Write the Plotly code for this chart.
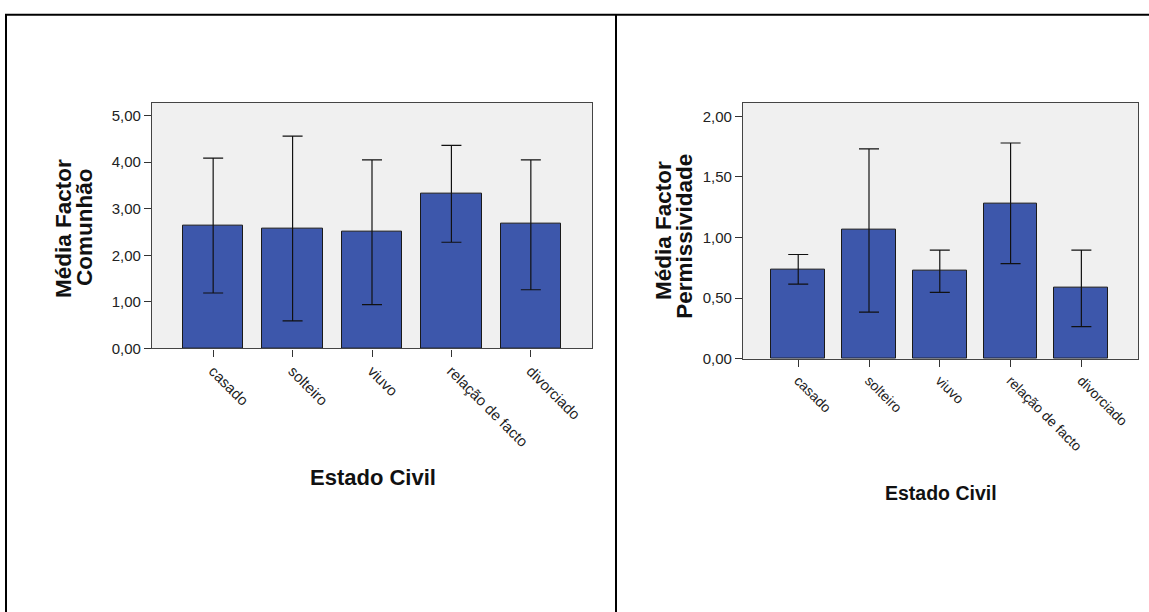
import plotly.graph_objects as go

categories = ["casado", "solteiro", "viuvo", "relação de facto", "divorciado"]

comunhao_mean = [2.63, 2.57, 2.50, 3.33, 2.67]
comunhao_low = [1.19, 0.59, 0.94, 2.28, 1.26]
comunhao_high = [4.09, 4.56, 4.05, 4.36, 4.05]

permis_mean = [0.738, 1.064, 0.727, 1.281, 0.583]
permis_low = [0.616, 0.385, 0.548, 0.784, 0.265]
permis_high = [0.860, 1.731, 0.896, 1.780, 0.896]

left_ticks = [0, 1, 2, 3, 4, 5]
left_ticktext = ["0,00", "1,00", "2,00", "3,00", "4,00", "5,00"]
right_ticks = [0, 0.5, 1.0, 1.5, 2.0]
right_ticktext = ["0,00", "0,50", "1,00", "1,50", "2,00"]

W, H = 1149, 612
BAR = "#3D57AB"
FONT = "Liberation Sans, Arial, sans-serif"

fig = go.Figure()

def add_bars(mean, low, high, xa, ya):
    fig.add_trace(go.Bar(
        x=categories, y=mean, xaxis=xa, yaxis=ya, width=0.76,
        marker=dict(color=BAR, line=dict(color="#1a1a1a", width=1)),
        error_y=dict(type="data", symmetric=False,
                     array=[h - m for h, m in zip(high, mean)],
                     arrayminus=[m - l for m, l in zip(mean, low)],
                     color="#111111", thickness=1.2, width=10),
        showlegend=False, hoverinfo="skip"))

add_bars(comunhao_mean, comunhao_low, comunhao_high, "x", "y")
add_bars(permis_mean, permis_low, permis_high, "x2", "y2")

def px_x(p):
    return p / W

def px_y(p):
    return 1 - p / H

axis_common = dict(showline=True, linecolor="#444444", linewidth=1.3, mirror=True,
                   ticks="outside", ticklen=7, tickcolor="#333333", tickwidth=1.2,
                   showgrid=False, zeroline=False)

fig.update_layout(
    width=W, height=H, autosize=False,
    margin=dict(l=0, r=0, t=0, b=0),
    paper_bgcolor="white", plot_bgcolor="#F0F0F0",
    bargap=0,
    xaxis=dict(domain=[px_x(152), px_x(592)], anchor="y", range=[-0.77, 4.77],
               tickangle=45, tickfont=dict(family=FONT, size=15, color="#222222"),
               **axis_common),
    yaxis=dict(domain=[px_y(353), px_y(104)], anchor="x", range=[0, 5.28],
               tickvals=left_ticks, ticktext=left_ticktext,
               tickfont=dict(family=FONT, size=15, color="#222222"), **axis_common),
    xaxis2=dict(domain=[px_x(743), px_x(1138)], anchor="y2", range=[-0.78, 4.8],
                tickangle=45, tickfont=dict(family=FONT, size=14, color="#222222"),
                **axis_common),
    yaxis2=dict(domain=[px_y(363.5), px_y(104)], anchor="x2", range=[0, 2.113],
                tickvals=right_ticks, ticktext=right_ticktext,
                tickfont=dict(family=FONT, size=15, color="#222222"), **axis_common),
)

def title(text, x, y, size, angle=0):
    fig.add_annotation(x=px_x(x), y=px_y(y), xref="paper", yref="paper",
                       text="<b>" + text + "</b>", textangle=angle, showarrow=False,
                       font=dict(family=FONT, size=size, color="#111111"),
                       xanchor="center", yanchor="middle")

title("Média Factor", 64, 232, 22.5, -90)
title("Comunhão", 85, 230, 22.5, -90)
title("Média Factor", 664, 234, 22.5, -90)
title("Permissividade", 685, 240, 22.5, -90)
title("Estado Civil", 373, 484, 22)
title("Estado Civil", 941, 500, 19.5)

line = dict(color="black", width=2)
fig.add_shape(type="line", xref="paper", yref="paper", x0=px_x(5), x1=1, y0=px_y(15), y1=px_y(15), line=line)
fig.add_shape(type="line", xref="paper", yref="paper", x0=px_x(6), x1=px_x(6), y0=px_y(15), y1=-0.02, line=line)
fig.add_shape(type="line", xref="paper", yref="paper", x0=px_x(616), x1=px_x(616), y0=px_y(15), y1=-0.02, line=line)

fig.write_html(
    "out.html",
    config={"displayModeBar": False, "responsive": False},
    post_script=("document.documentElement.style.margin='0';"
                 "document.body.style.margin='0';document.body.style.padding='0';"
                 "document.documentElement.style.overflow='hidden';"
                 "document.body.style.overflow='hidden';"),
)
